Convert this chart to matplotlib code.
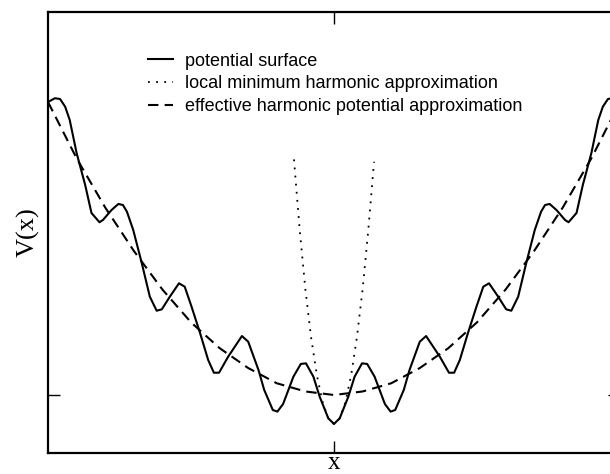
import matplotlib
matplotlib.use("Agg")
import matplotlib.pyplot as plt

# potential surface (x in [-5, 5], V in the same units as x^2)
x_pts = [-5.00, -4.88, -4.79, -4.70, -4.62, -4.50, -4.35, -4.24, -4.10, -4.04,
         -3.89, -3.77, -3.69, -3.62, -3.51, -3.36, -3.22, -3.10, -3.01, -2.87,
         -2.71, -2.61, -2.49, -2.34, -2.20, -2.10, -2.01, -1.85, -1.61, -1.50,
         -1.32, -1.22, -1.07, -0.99, -0.89, -0.71, -0.58, -0.49, -0.36, -0.25,
         -0.10, 0.00,
         0.10, 0.25, 0.36, 0.49, 0.58, 0.71, 0.89, 0.99, 1.07, 1.22,
         1.32, 1.50, 1.61, 1.85, 2.01, 2.10, 2.20, 2.34, 2.49, 2.61,
         2.71, 2.87, 3.01, 3.10, 3.22, 3.36, 3.51, 3.62, 3.69, 3.77,
         3.89, 4.04, 4.10, 4.24, 4.35, 4.50, 4.62, 4.70, 4.79, 4.88, 5.00]
v_pts = [25.0, 25.32, 25.26, 24.60, 23.46, 20.65, 17.92, 15.53, 14.74, 14.93,
         15.78, 16.30, 16.21, 15.64, 14.08, 11.24, 8.39, 7.19, 7.31, 8.39,
         9.53, 9.24, 7.53, 5.26, 2.99, 1.90, 1.90, 3.27, 5.03, 4.55,
         2.13, 0.43, -1.28, -1.42, -0.77, 1.56, 2.65, 2.70, 1.56, -0.15,
         -1.99, -2.47,
         -1.99, -0.15, 1.56, 2.70, 2.65, 1.56, -0.77, -1.42, -1.28, 0.43,
         2.13, 4.55, 5.03, 3.27, 1.90, 1.90, 2.99, 5.26, 7.53, 9.24,
         9.53, 8.39, 7.31, 7.19, 8.39, 11.24, 14.08, 15.64, 16.21, 16.30,
         15.78, 14.93, 14.74, 15.53, 17.92, 20.65, 23.46, 24.60, 25.26, 25.32, 25.0]

# local minimum harmonic approximation
x_loc = [-0.70, -0.60, -0.50, -0.40, -0.30, -0.20, -0.10, 0.00,
         0.10, 0.20, 0.30, 0.40, 0.50, 0.60, 0.70]
v_loc = [20.1, 14.1, 9.0, 4.9, 1.7, -0.6, -2.0, -2.47,
         -2.0, -0.6, 1.7, 4.9, 9.0, 14.1, 19.9]

# effective harmonic potential approximation
x_eff = [-5.0, -4.5, -4.0, -3.5, -3.0, -2.5, -2.0, -1.5, -1.0, -0.5, 0.0,
         0.5, 1.0, 1.5, 2.0, 2.5, 3.0, 3.5, 4.0, 4.5, 5.0]
v_eff = [25.0, 20.2, 16.0, 12.3, 9.0, 6.2, 4.0, 2.3, 1.0, 0.3, 0.0,
         0.3, 1.0, 2.3, 4.0, 6.2, 9.0, 12.3, 16.0, 20.2, 25.0]

labels = ["potential surface",
          "local minimum harmonic approximation",
          "effective harmonic potential approximation"]

fig = plt.figure(figsize=(6.10, 4.74), dpi=100)
# the reference is cropped on the right, so the axes run past the figure edge
ax = fig.add_axes([48 / 610, 21 / 474, 572 / 610, 441 / 474])

ax.plot(x_pts, v_pts, color="black", lw=1.5, label=labels[0])
ax.plot(x_loc, v_loc, color="black", lw=1.3, linestyle=(0, (1, 3.5)), label=labels[1])
ax.plot(x_eff, v_eff, color="black", lw=1.5, linestyle=(0, (5, 3)), label=labels[2])

ax.set_xlim(-5, 5)
ax.set_ylim(-4.95, 32.68)
ax.set_xticks([0])
ax.set_yticks([0])
ax.tick_params(direction="in", length=8.5, width=1, top=True, right=True,
               labelbottom=False, labelleft=False)
for sp in ax.spines.values():
    sp.set_linewidth(1.6)

ax.set_xlabel("x", family="Liberation Serif", fontsize=18, labelpad=-1)
ax.set_ylabel("V(x)", family="Liberation Serif", fontsize=19, labelpad=6)

ax.legend(loc="upper left", bbox_to_anchor=(0.146, 0.945), frameon=False,
          prop={"family": "Liberation Sans", "size": 13},
          handlelength=1.4, handletextpad=0.65, labelspacing=0.33)

fig.savefig("out.png", dpi=100)
